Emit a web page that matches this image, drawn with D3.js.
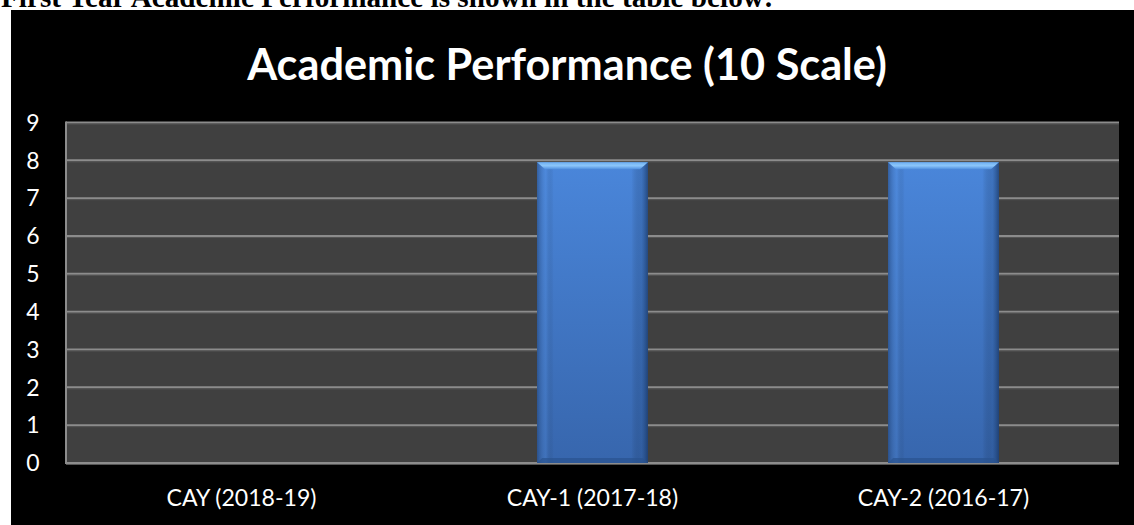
<!DOCTYPE html>
<html><head><meta charset="utf-8">
<script src="https://cdn.jsdelivr.net/npm/d3@7"></script>
<style>html,body{margin:0;padding:0;background:#fff;overflow:hidden}</style>
</head><body>
<script>
const categories = ["CAY (2018-19)", "CAY-1 (2017-18)", "CAY-2 (2016-17)"];
const values = [0, 7.95, 7.95];
const yTicks = [0,1,2,3,4,5,6,7,8,9];
const titleText = "Academic Performance (10 Scale)";
const headingText = "First Year Academic Performance is shown in the table below:";

const W = 1134, H = 525;
const svg = d3.select("body").append("svg").attr("width", W).attr("height", H);
const defs = svg.append("defs");

// heading text (cut at the top, as in the source page)
const head = svg.append("text").attr("x", 1).attr("y", 7)
  .attr("font-family", "'Liberation Serif', 'Times New Roman', serif")
  .attr("font-weight", "bold").attr("font-size", 22).attr("fill", "#000")
  .text(headingText);
const hl = head.node().getComputedTextLength();
head.attr("font-size", 22 * 773 / hl);

// black chart frame
svg.append("rect").attr("x", 11).attr("y", 10).attr("width", W - 11).attr("height", H - 10).attr("fill", "#000");

const plot = {l: 66, r: 1119, t: 122.5, b: 463};
const x = d3.scaleBand().domain(categories).range([plot.l, plot.r]).paddingInner(0.684).paddingOuter(0.342);
const y = d3.scaleLinear().domain([0, 9]).range([plot.b, plot.t]);

// plot background
svg.append("rect").attr("x", plot.l).attr("y", plot.t).attr("width", plot.r - plot.l).attr("height", plot.b - plot.t).attr("fill", "#404040");

// gridlines
const grid = svg.append("g");
grid.selectAll("line.g").data(yTicks).join("line")
  .attr("x1", plot.l).attr("x2", plot.r)
  .attr("y1", d => y(d)).attr("y2", d => y(d))
  .attr("stroke", "#8c8c8c").attr("stroke-width", 2);
grid.selectAll("line.s").data(yTicks).join("line")
  .attr("x1", plot.l).attr("x2", plot.r)
  .attr("y1", d => y(d) + 1.5).attr("y2", d => y(d) + 1.5)
  .attr("stroke", "#555").attr("stroke-width", 1);
svg.append("line").attr("x1", plot.l).attr("x2", plot.l).attr("y1", plot.t - 1).attr("y2", plot.b + 1)
  .attr("stroke", "#8c8c8c").attr("stroke-width", 2);

// bar gradients
const g1 = defs.append("linearGradient").attr("id", "barV").attr("x1", 0).attr("y1", 0).attr("x2", 0).attr("y2", 1);
g1.append("stop").attr("offset", "0%").attr("stop-color", "#4a86da");
g1.append("stop").attr("offset", "100%").attr("stop-color", "#3766ad");
const g2 = defs.append("linearGradient").attr("id", "barH").attr("x1", 0).attr("y1", 0).attr("x2", 1).attr("y2", 0);
g2.append("stop").attr("offset", "0%").attr("stop-color", "#1f3f70").attr("stop-opacity", 0.55);
g2.append("stop").attr("offset", "8%").attr("stop-color", "#5a95e5").attr("stop-opacity", 0.25);
g2.append("stop").attr("offset", "15%").attr("stop-color", "#000").attr("stop-opacity", 0);
g2.append("stop").attr("offset", "85%").attr("stop-color", "#000").attr("stop-opacity", 0);
g2.append("stop").attr("offset", "94%").attr("stop-color", "#244a82").attr("stop-opacity", 0.3);
g2.append("stop").attr("offset", "100%").attr("stop-color", "#15305a").attr("stop-opacity", 0.7);
const g3 = defs.append("linearGradient").attr("id", "barTop").attr("x1", 0).attr("y1", 0).attr("x2", 0).attr("y2", 1);
g3.append("stop").attr("offset", "0%").attr("stop-color", "#6fb0f2");
g3.append("stop").attr("offset", "50%").attr("stop-color", "#8cc6fa");
g3.append("stop").attr("offset", "100%").attr("stop-color", "#4f8fe0");

const data = categories.map((c, i) => ({c, v: values[i]})).filter(d => d.v > 0);
const bars = svg.append("g").selectAll("g").data(data).join("g");
bars.append("rect").attr("x", d => x(d.c)).attr("y", d => y(d.v)).attr("width", x.bandwidth())
  .attr("height", d => y(0) - y(d.v)).attr("fill", "url(#barV)");
bars.append("rect").attr("x", d => x(d.c)).attr("y", d => y(d.v)).attr("width", x.bandwidth())
  .attr("height", d => y(0) - y(d.v)).attr("fill", "url(#barH)");
bars.append("path").attr("d", d => {
  const x0 = x(d.c), x1 = x0 + x.bandwidth(), t = y(d.v), h = 7;
  return `M${x0},${t}L${x1},${t}L${x1 - 8},${t + h}L${x0 + 8},${t + h}Z`;
}).attr("fill", "url(#barTop)");
bars.append("path").attr("d", d => {
  const x0 = x(d.c), x1 = x0 + x.bandwidth(), b = y(0), h = 5;
  return `M${x0},${b}L${x1},${b}L${x1 - 5},${b - h}L${x0 + 5},${b - h}Z`;
}).attr("fill", "#2a528e").attr("opacity", 0.7);

// y tick labels
svg.append("g").selectAll("text").data(yTicks).join("text")
  .attr("x", 33).attr("y", d => y(d)).attr("dy", "0.36em").attr("text-anchor", "middle")
  .attr("font-family", "Lato, 'Open Sans', sans-serif").attr("font-size", 23).attr("fill", "#fff")
  .text(d => d);

// x labels
const xl = svg.append("g").selectAll("text").data(categories).join("text")
  .attr("x", d => x(d) + x.bandwidth() / 2).attr("y", 506).attr("text-anchor", "middle")
  .attr("font-family", "Lato, 'Open Sans', sans-serif").attr("font-size", 22).attr("fill", "#fff")
  .text(d => d);
const w0 = xl.nodes()[0].getComputedTextLength();
xl.attr("font-size", Math.min(24, 22 * 150 / w0));

// title
const title = svg.append("text").attr("x", 567).attr("y", 80).attr("text-anchor", "middle")
  .attr("font-family", "Lato, 'Open Sans', sans-serif").attr("font-weight", "bold")
  .attr("font-size", 40).attr("fill", "#fff").text(titleText);
const tl = title.node().getComputedTextLength();
title.attr("font-size", Math.min(46, 40 * 640 / tl));
</script>
</body></html>
